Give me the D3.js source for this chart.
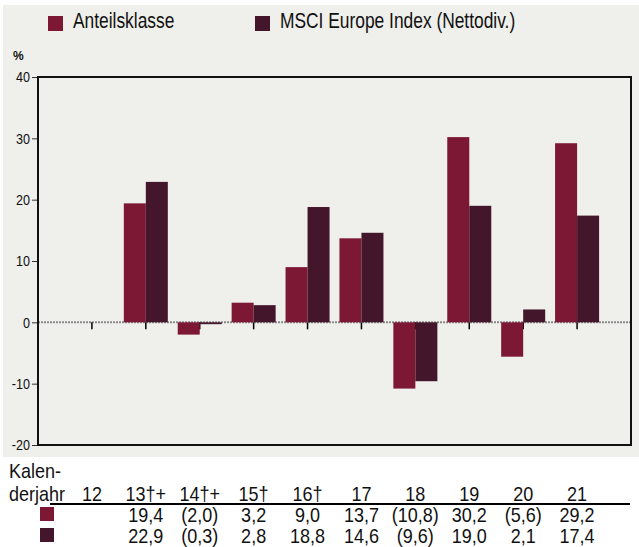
<html>
<head>
<meta charset="utf-8">
<script src="https://d3js.org/d3.v7.min.js"></script>
<style>
body { margin: 0; background: #fff; }
svg text { font-family: 'Liberation Sans', Arial, sans-serif; fill: #111; }
</style>
</head>
<body>
<div id="chart"></div>
<script>

// data
var years = ["12", "13\u2020+", "14\u2020+", "15\u2020", "16\u2020", "17", "18", "19", "20", "21"];
var fund = [null, 19.4, -2.0, 3.2, 9.0, 13.7, -10.8, 30.2, -5.6, 29.2];
var bench = [null, 22.9, -0.3, 2.8, 18.8, 14.6, -9.6, 19.0, 2.1, 17.4];
var seriesNames = ["Anteilsklasse", "MSCI Europe Index (Nettodiv.)"];
var colors = ["#7c1734", "#43162b"];
var yTicks = [-20, -10, 0, 10, 20, 30, 40];

var width = 639, height = 547;
var plotLeft = 38, plotRight = 631, plotTop = 77, plotBottom = 445;
var barW = 22;

var svg = d3.select("#chart").append("svg").attr("width", width).attr("height", height);

// squeeze text horizontally around its own anchor (the original uses a narrow face)
function narrow(sel, k) {
	sel.attr("transform", function() {
		var t = d3.select(this);
		var tx = +t.attr("x") || 0, ty = +t.attr("y") || 0;
		return "translate(" + tx + "," + ty + ") scale(" + k + ",1) translate(" + (-tx) + "," + (-ty) + ")";
	});
}

// grey panel behind chart
svg.append("rect").attr("x", 3).attr("y", 5).attr("width", 636).attr("height", 452).style("fill", "#efefeb");

var x = d3.scalePoint().domain(years).range([plotLeft, plotRight]).padding(1);
var y = d3.scaleLinear().domain([-20, 40]).range([plotBottom, plotTop]);

// legend
var legend = svg.selectAll(".legend").data(seriesNames).enter().append("g")
	.attr("class", "legend")
	.attr("transform", function(d, i) { return "translate(" + [48, 255][i] + ",16)"; });
legend.append("rect").attr("width", 15).attr("height", 15).style("fill", function(d, i) { return colors[i]; });
legend.append("text").attr("x", 25).attr("y", 12).style("font-size", "22px").text(function(d) { return d; })
	.call(narrow, 0.79);

svg.append("text").attr("x", 13).attr("y", 60).style("font-size", "12px").style("font-weight", "bold").text("%");

// y axis
var yAxis = d3.axisLeft(y).tickValues(yTicks).tickSize(6).tickPadding(2)
	.tickFormat(function(d) { return String(d); });
var ya = svg.append("g").attr("transform", "translate(" + plotLeft + ",0)").call(yAxis);
ya.select(".domain").remove();
ya.selectAll("text").style("font-size", "14px").style("font-family", "'Liberation Sans', Arial, sans-serif")
	.style("fill", "#111").attr("dy", "0.35em").attr("y", 0)
	.each(function() {
		var t = d3.select(this);
		t.attr("transform", "scale(0.9,1)").attr("x", -8 / 0.9);
	});
ya.selectAll("line").style("stroke", "#333");

// zero line
svg.append("line")
	.attr("x1", plotLeft).attr("x2", plotRight).attr("y1", y(0)).attr("y2", y(0))
	.style("stroke", "#8a8a8a").style("stroke-width", 2).style("stroke-dasharray", "2,1");

// category ticks on zero line
svg.selectAll(".xtick").data(years).enter().append("line")
	.attr("class", "xtick")
	.attr("x1", function(d) { return x(d); }).attr("x2", function(d) { return x(d); })
	.attr("y1", y(0)).attr("y2", y(0) + 7)
	.style("stroke", "#000").style("stroke-width", 1.5);

// bars
[fund, bench].forEach(function(vals, s) {
	var rows = vals.map(function(v, i) { return { year: years[i], v: v }; })
		.filter(function(d) { return d.v !== null; });
	svg.selectAll(".bar" + s).data(rows).enter().append("rect")
		.attr("class", "bar" + s)
		.attr("x", function(d) { return x(d.year) - barW + s * barW; })
		.attr("y", function(d) { return y(Math.max(0, d.v)); })
		.attr("width", barW)
		.attr("height", function(d) { return Math.abs(y(d.v) - y(0)); })
		.style("fill", colors[s]);
});

// frame
svg.append("rect").attr("x", plotLeft).attr("y", plotTop).attr("width", plotRight - plotLeft).attr("height", plotBottom - plotTop)
	.style("fill", "none").style("stroke", "#111").style("stroke-width", 2);

// table below
svg.append("text").attr("x", 9).attr("y", 478).style("font-size", "20px").text("Kalen-").call(narrow, 0.9);
svg.append("text").attr("x", 9).attr("y", 501).style("font-size", "20px").text("derjahr").call(narrow, 0.9);

svg.selectAll(".year").data(years).enter().append("text")
	.attr("class", "year")
	.attr("x", function(d) { return x(d); }).attr("y", 501)
	.attr("text-anchor", "middle").style("font-size", "20px")
	.text(function(d) { return d; })
	.call(narrow, 0.9);

svg.append("line").attr("x1", 50).attr("x2", 630).attr("y1", 504).attr("y2", 504)
	.style("stroke", "#000").style("stroke-width", 2);

function fmt(v) {
	if (v === null) return "";
	var s = d3.format(".1f")(Math.abs(v)).replace(".", ",");
	return v < 0 ? "(" + s + ")" : s;
}

[fund, bench].forEach(function(vals, s) {
	var rowY = 522 + s * 21;
	svg.append("rect").attr("x", 40).attr("y", 507 + s * 21).attr("width", 14).attr("height", 14).style("fill", colors[s]);
	svg.selectAll(".row" + s).data(vals).enter().append("text")
		.attr("class", "row" + s)
		.attr("x", function(d, i) { return x(years[i]); }).attr("y", rowY)
		.attr("text-anchor", "middle").style("font-size", "20px")
		.text(fmt)
		.call(narrow, 0.9);
});

</script>
</body>
</html>
